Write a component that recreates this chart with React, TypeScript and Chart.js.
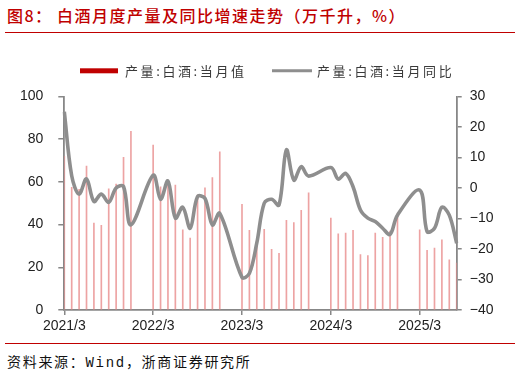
import React, { useEffect, useRef } from 'react';
import { Chart, registerables } from 'chart.js';

Chart.register(...registerables);

const categories: string[] = [
  '2021/3', '2021/4', '2021/5', '2021/6', '2021/7', '2021/8', '2021/9', '2021/10', '2021/11', '2021/12',
  '2022/1', '2022/2', '2022/3', '2022/4', '2022/5', '2022/6', '2022/7', '2022/8', '2022/9', '2022/10', '2022/11', '2022/12',
  '2023/1', '2023/2', '2023/3', '2023/4', '2023/5', '2023/6', '2023/7', '2023/8', '2023/9', '2023/10', '2023/11', '2023/12',
  '2024/1', '2024/2', '2024/3', '2024/4', '2024/5', '2024/6', '2024/7', '2024/8', '2024/9', '2024/10', '2024/11', '2024/12',
  '2025/1', '2025/2', '2025/3', '2025/4', '2025/5', '2025/6', '2025/7', '2025/8',
];

// 产量:白酒:当月值 (万千升)
const monthlyOutput: (number | null)[] = [
  72, 57.5, 56.5, 67.4, 40.7, 39.6, 56.7, 59, 71.5, 83.7,
  null, null, 77.3, 57.7, 60, 58.5, 37.6, 33.7, 53.8, 57.2, 62, 74.1,
  null, null, 49.5, 37.3, 32, 37.8, 28.4, 26.6, 42, 40.9, 46.7, 54.9,
  null, null, 43.1, 35.7, 36, 37.3, 26, 25.5, 36, 34, 37, 45.1,
  null, null, 37.6, 27.9, 29, 32.9, 23.5, 22,
];

// 产量:白酒:当月同比 (%)
const monthlyYoY: (number | null)[] = [
  25, 4, -2, 3, -4.4, -2, -4.7, 0, 0.5, -12.1,
  null, null, 4.2, -3.7, 2.3, -9.9, -6.3, -13.2, -2.8, -3.4, -12.1, -8.3,
  null, null, -29.3, -28, -18, -5, -3.7, -5.6, 12.5, 2.6, 7, 3.9,
  null, null, 6.7, 2.9, 4.8, 0.4, -7.2, -9.9, -11, -13.2, -15.2, -8.9,
  null, null, -0.7, -14.3, -13.2, -6.3, -8.9, -18.1,
];

const leftTicks = { min: 0, max: 100, step: 20 };
const rightTicks = { min: -40, max: 30, step: 10 };

const seriesNames = ['产量:白酒:当月值', '产量:白酒:当月同比'];

const BAR_COLOR = 'rgba(232,140,140,0.8)';
const LEGEND_BAR = '#c00000';
const LINE_COLOR = '#8e8e8e';
const AXIS_COLOR = '#878787';

const legendPlugin = {
  id: 'customLegend',
  afterDraw(chart: any) {
    const ctx = chart.ctx as CanvasRenderingContext2D;
    ctx.save();
    ctx.font = '13px "Noto Sans CJK SC", sans-serif';
    (ctx as any).letterSpacing = '2.6px';
    ctx.textBaseline = 'middle';
    ctx.textAlign = 'left';
    const cy = 30.8;
    ctx.fillStyle = LEGEND_BAR;
    ctx.fillRect(80, cy - 2.5, 38, 5);
    ctx.fillStyle = '#3a3a3a';
    ctx.fillText(chart.data.datasets[0].label, 125, cy);
    ctx.strokeStyle = LINE_COLOR;
    ctx.lineWidth = 3;
    ctx.beginPath();
    ctx.moveTo(272, cy);
    ctx.lineTo(312, cy);
    ctx.stroke();
    ctx.fillText(chart.data.datasets[1].label, 317, cy);
    ctx.restore();
  },
};

function ChartCanvas() {
  const ref = useRef<HTMLCanvasElement | null>(null);
  useEffect(() => {
    if (!ref.current) return;
    Chart.defaults.font.family = '"Liberation Sans", Arial, sans-serif';
    const chart = new Chart(ref.current, {
      type: 'bar',
      data: {
        labels: categories,
        datasets: [
          {
            type: 'bar',
            label: seriesNames[0],
            data: monthlyOutput,
            backgroundColor: BAR_COLOR,
            borderWidth: 0,
            barThickness: 1,
            yAxisID: 'y',
            order: 2,
          } as any,
          {
            type: 'line',
            label: seriesNames[1],
            data: monthlyYoY,
            borderColor: LINE_COLOR,
            backgroundColor: LINE_COLOR,
            borderWidth: 3.6,
            pointRadius: 0,
            tension: 0.35,
            spanGaps: true,
            yAxisID: 'y1',
            order: 1,
          } as any,
        ],
      },
      options: {
        responsive: false,
        animation: false,
        layout: { padding: { top: 56.5, left: 0, right: 0, bottom: 0 } },
        plugins: {
          legend: { display: false },
          tooltip: { enabled: false },
          title: { display: false },
        },
        scales: {
          x: {
            type: 'category',
            offset: false,
            grid: {
              offset: false,
              drawOnChartArea: false,
              drawTicks: true,
              tickLength: 5,
              color: AXIS_COLOR,
              lineWidth: 1.5,
            },
            border: { display: true, color: AXIS_COLOR, width: 1.8 },
            ticks: {
              autoSkip: false,
              maxRotation: 0,
              minRotation: 0,
              padding: 3,
              color: '#222',
              font: { size: 14 },
            },
            afterBuildTicks: (axis: any) => {
              axis.ticks = axis.ticks.filter((t: any) => categories[t.value].endsWith('/3'));
            },
            afterFit: (scale: any) => {
              scale.height = 30;
            },
          },
          y: {
            position: 'left',
            min: leftTicks.min,
            max: leftTicks.max,
            ticks: { stepSize: leftTicks.step, padding: 15, color: '#222', font: { size: 14 } },
            grid: { drawOnChartArea: false, drawTicks: true, tickLength: 6, color: AXIS_COLOR, lineWidth: 1.5 },
            border: { display: true, color: AXIS_COLOR, width: 1.8 },
            afterFit: (scale: any) => {
              scale.width = 64.3;
            },
          },
          y1: {
            position: 'right',
            min: rightTicks.min,
            max: rightTicks.max,
            ticks: {
              stepSize: rightTicks.step,
              padding: 8,
              color: '#222',
              font: { size: 14 },
              callback: (v: any) => String(v).replace('-', '\u2212'),
            },
            grid: { drawOnChartArea: false, drawTicks: true, tickLength: 5, color: AXIS_COLOR, lineWidth: 1.5 },
            border: { display: true, color: AXIS_COLOR, width: 1.8 },
            afterFit: (scale: any) => {
              scale.width = 64.3;
            },
          },
        },
      },
      plugins: [legendPlugin],
    } as any);
    return () => chart.destroy();
  }, []);
  return <canvas ref={ref} width={521} height={300} style={{ width: 521, height: 300, display: 'block' }} />;
}

export default function App() {
  const titleFont: React.CSSProperties = {
    position: 'absolute',
    top: 6,
    fontFamily: '"Noto Sans CJK SC", sans-serif',
    fontSize: 16,
    lineHeight: '18px',
    letterSpacing: '1.5px',
    color: '#c00000',
    fontWeight: 500,
    whiteSpace: 'nowrap',
  };
  return (
    <div style={{ position: 'absolute', left: 0, top: 0, width: 521, height: 375, background: '#fff', overflow: 'hidden' }}>
      <div style={{ ...titleFont, left: 7 }}>图8：</div>
      <div style={{ ...titleFont, left: 57 }}>白酒月度产量及同比增速走势（万千升，%）</div>
      <div style={{ position: 'absolute', left: 5, top: 31.5, width: 510, height: 1.5, background: '#c00000' }} />
      <div style={{ position: 'absolute', left: 0, top: 40, width: 521, height: 300 }}>
        <ChartCanvas />
      </div>
      <div style={{ position: 'absolute', left: 5, top: 342.5, width: 510, height: 1.5, background: '#c00000' }} />
      <div
        style={{
          position: 'absolute',
          left: 7,
          top: 351.5,
          fontFamily: '"Noto Sans CJK SC", sans-serif',
          fontSize: 14,
          lineHeight: '18px',
          letterSpacing: '1.7px',
          color: '#111',
          whiteSpace: 'nowrap',
        }}
      >
        资料来源：<span style={{ fontFamily: '"Liberation Mono", monospace' }}>Wind</span>，浙商证券研究所
      </div>
    </div>
  );
}
